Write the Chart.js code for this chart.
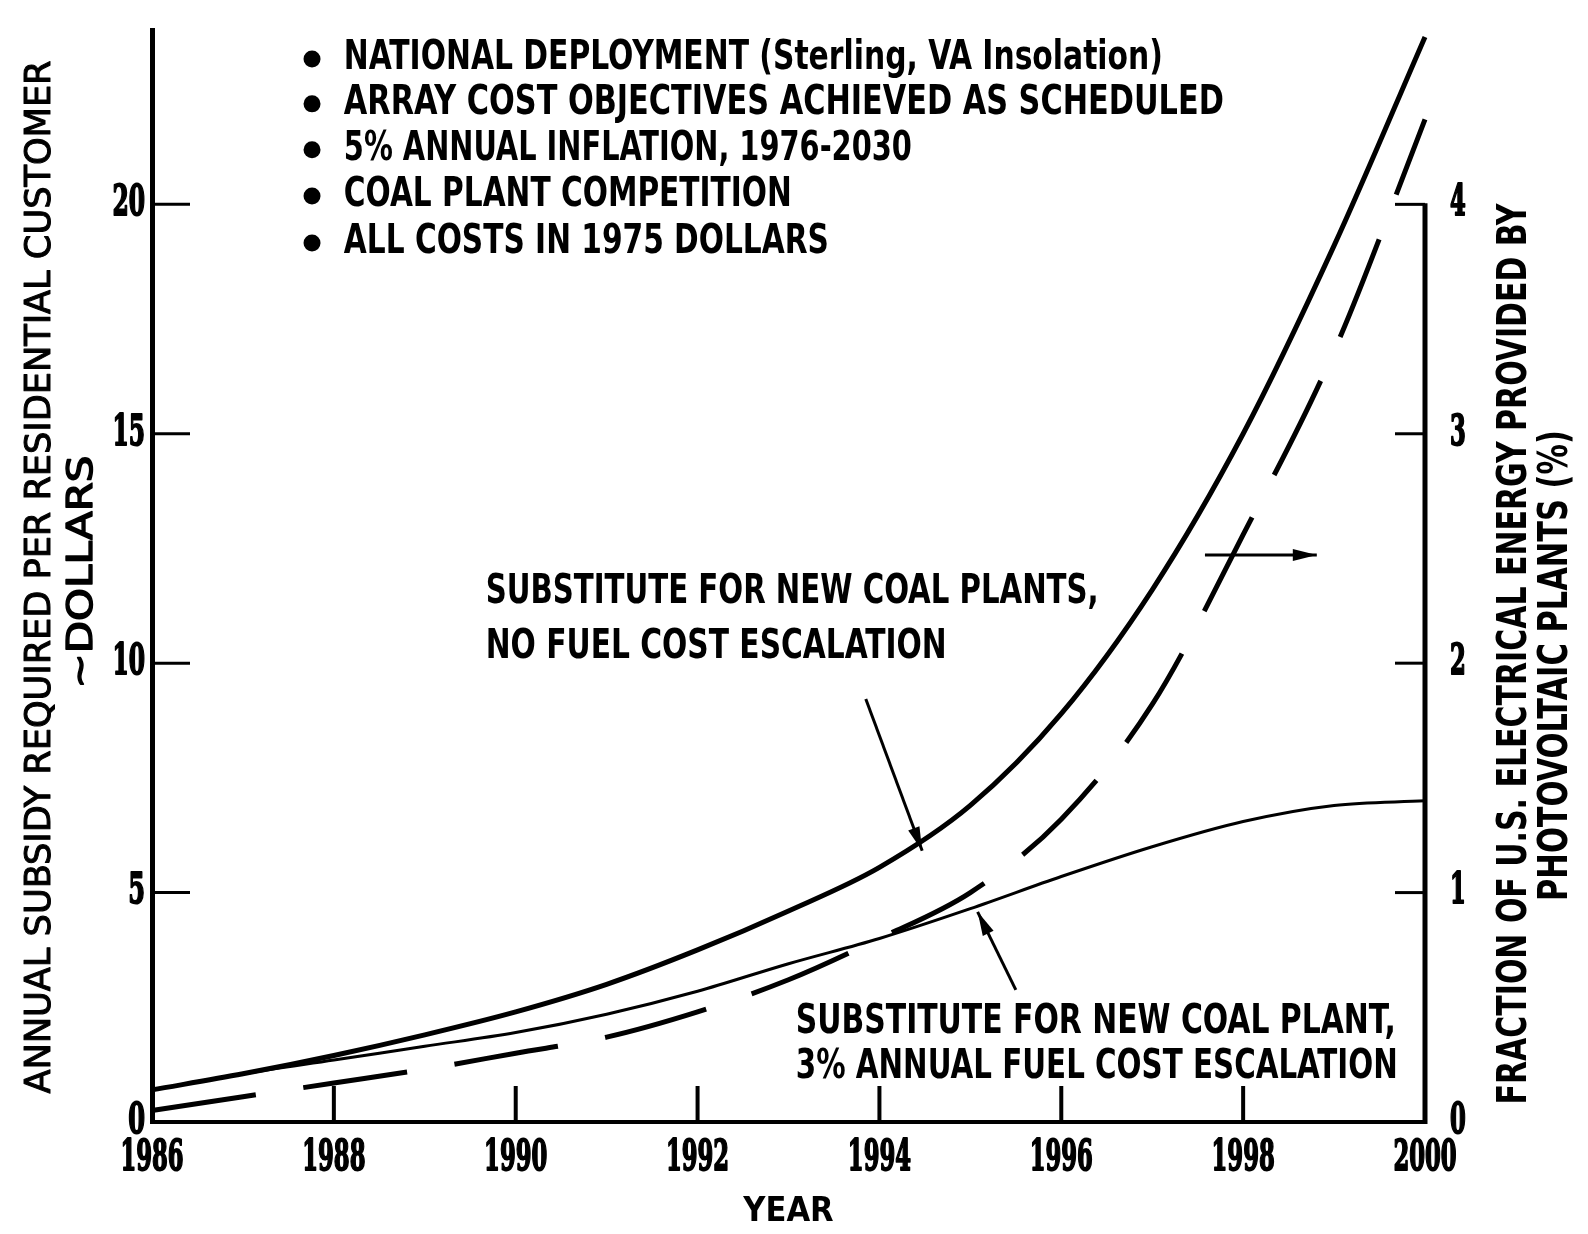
<!DOCTYPE html>
<html>
<head>
<meta charset="utf-8">
<script src="https://cdn.jsdelivr.net/npm/chart.js@4.4.1/dist/chart.umd.min.js"></script>
<style>
  html, body { margin: 0; padding: 0; background: #fff; }
</style>
</head>
<body>
<canvas id="chart" width="1588" height="1234"></canvas>
<script>
// Values
const years = [1986, 1987, 1988, 1989, 1990, 1991, 1992, 1993, 1994, 1995, 1996, 1997, 1998, 1999, 2000];
// annual subsidy, dollars (left axis)
const noEscalation = [0.7, 1.05, 1.45, 1.9, 2.4, 3.0, 3.75, 4.6, 5.55, 6.9, 8.9, 11.6, 15.0, 19.1, 23.65];
const fuelEscalation = [0.7, 1.05, 1.35, 1.65, 1.95, 2.35, 2.85, 3.45, 4.0, 4.65, 5.35, 6.0, 6.55, 6.9, 7.0];
// fraction of US electrical energy from PV, percent (right axis)
const pvFraction = [0.05, 0.11, 0.17, 0.23, 0.30, 0.37, 0.48, 0.62, 0.80, 1.00, 1.32, 1.82, 2.56, 3.36, 4.37];

const yearTicks = [1986, 1988, 1990, 1992, 1994, 1996, 1998, 2000];
const dollarTicks = [0, 5, 10, 15, 20];
const fractionTicks = [0, 1, 2, 3, 4];

const notes = [
  'NATIONAL DEPLOYMENT (Sterling, VA Insolation)',
  'ARRAY COST OBJECTIVES ACHIEVED AS SCHEDULED',
  '5% ANNUAL INFLATION, 1976-2030',
  'COAL PLANT COMPETITION',
  'ALL COSTS IN 1975 DOLLARS'
];

const Y_MAX = 23.8;
const COND = '"Liberation Sans Narrow", "DejaVu Sans Condensed", "Roboto Condensed", "Liberation Sans", sans-serif';
const SLAB = '"DejaVu Serif", "Liberation Serif", serif';

// draw text squeezed/stretched to a given width, optionally thickened
function fitText(ctx, text, x, y, width, font, weight) {
  ctx.font = font;
  const w = ctx.measureText(text).width;
  ctx.save();
  ctx.translate(x, y);
  ctx.scale(width / w, 1);
  ctx.fillText(text, 0, 0);
  if (weight) {
    ctx.lineWidth = weight;
    ctx.lineJoin = 'round';
    ctx.strokeText(text, 0, 0);
  }
  ctx.restore();
}

function arrow(ctx, x1, y1, x2, y2) {
  const a = Math.atan2(y2 - y1, x2 - x1);
  ctx.beginPath();
  ctx.moveTo(x1, y1);
  ctx.lineTo(x2, y2);
  ctx.stroke();
  ctx.beginPath();
  ctx.moveTo(x2, y2);
  ctx.lineTo(x2 - 24 * Math.cos(a) + 6 * Math.sin(a), y2 - 24 * Math.sin(a) - 6 * Math.cos(a));
  ctx.lineTo(x2 - 24 * Math.cos(a) - 6 * Math.sin(a), y2 - 24 * Math.sin(a) + 6 * Math.cos(a));
  ctx.closePath();
  ctx.fill();
}

function rotatedText(ctx, text, cx, cy, width, font, weight) {
  ctx.save();
  ctx.translate(cx, cy);
  ctx.rotate(-Math.PI / 2);
  fitText(ctx, text, 0, 0, width, font, weight);
  ctx.restore();
}

const decorations = {
  id: 'decorations',
  afterDraw(chart) {
    const ctx = chart.ctx;
    const {x, y, y2} = chart.scales;
    const area = chart.chartArea;
    ctx.save();
    ctx.strokeStyle = '#000';
    ctx.fillStyle = '#000';
    ctx.lineCap = 'butt';

    // inward tick marks
    ctx.lineWidth = 4;
    yearTicks.slice(1, -1).forEach(v => {
      const px = x.getPixelForValue(v);
      ctx.beginPath(); ctx.moveTo(px, area.bottom); ctx.lineTo(px, area.bottom - 36); ctx.stroke();
    });
    ctx.lineWidth = 3;
    dollarTicks.slice(1).forEach(v => {
      const py = y.getPixelForValue(v);
      ctx.beginPath(); ctx.moveTo(area.left, py); ctx.lineTo(area.left + 38, py); ctx.stroke();
    });
    fractionTicks.slice(1).forEach(v => {
      const py = y2.getPixelForValue(v);
      ctx.beginPath(); ctx.moveTo(area.right - 30, py); ctx.lineTo(area.right, py); ctx.stroke();
    });
    // right axis only runs up to 4 %
    ctx.lineWidth = 5;
    ctx.beginPath();
    ctx.moveTo(area.right, y2.getPixelForValue(0) + 2);
    ctx.lineTo(area.right, y2.getPixelForValue(4) - 1);
    ctx.stroke();

    // tick labels, condensed slab figures
    const numFont = 'bold 42px ' + SLAB;
    const digitW = 15.8;
    ctx.textBaseline = 'middle';
    ctx.textAlign = 'center';
    yearTicks.forEach(v => {
      fitText(ctx, String(v), x.getPixelForValue(v), area.bottom + 37, digitW * 4, numFont, 2);
    });
    ctx.textAlign = 'right';
    dollarTicks.forEach(v => {
      const s = String(v);
      fitText(ctx, s, area.left - 7, y.getPixelForValue(v), digitW * s.length + 1, numFont, 2);
    });
    ctx.textAlign = 'left';
    fractionTicks.forEach(v => {
      fitText(ctx, String(v), area.right + 25, y2.getPixelForValue(v), digitW, numFont, 2);
    });

    // axis titles
    ctx.textAlign = 'center';
    const midY = (area.top + area.bottom) / 2;
    rotatedText(ctx, 'ANNUAL SUBSIDY REQUIRED PER RESIDENTIAL CUSTOMER', 41, midY + 1, 1033, '36px ' + COND, 1);
    rotatedText(ctx, '~DOLLARS', 83, midY - 4, 233, '36px ' + COND, 1.4);
    rotatedText(ctx, 'FRACTION OF U.S. ELECTRICAL ENERGY PROVIDED BY', area.right + 91, y2.getPixelForValue(2.04), 901, 'bold 40px ' + COND);
    rotatedText(ctx, 'PHOTOVOLTAIC PLANTS (%)', area.right + 132, y2.getPixelForValue(1.99), 471, 'bold 40px ' + COND);

    // assumption list
    ctx.textAlign = 'left';
    const noteWidths = [819, 880, 568, 448, 485];
    const noteRows = [23.17, 22.19, 21.19, 20.18, 19.16];
    notes.forEach((t, i) => {
      const py = y.getPixelForValue(noteRows[i]);
      ctx.beginPath();
      ctx.arc(x.getPixelForValue(1987.76), py, 8.5, 0, Math.PI * 2);
      ctx.fill();
      fitText(ctx, t, x.getPixelForValue(1988.11), py, noteWidths[i], 'bold 40px ' + COND);
    });

    // curve labels
    const f = 'bold 40px ' + COND;
    fitText(ctx, 'SUBSTITUTE FOR NEW COAL PLANTS,', x.getPixelForValue(1989.67), y.getPixelForValue(11.53), 613, f);
    fitText(ctx, 'NO FUEL COST ESCALATION', x.getPixelForValue(1989.67), y.getPixelForValue(10.33), 461, f);
    fitText(ctx, 'SUBSTITUTE FOR NEW COAL PLANT,', x.getPixelForValue(1993.08), y.getPixelForValue(2.16), 600, f);
    fitText(ctx, '3% ANNUAL FUEL COST ESCALATION', x.getPixelForValue(1993.08), y.getPixelForValue(1.18), 602, f);

    ctx.lineWidth = 3;
    arrow(ctx, x.getPixelForValue(1993.85), y.getPixelForValue(9.22), x.getPixelForValue(1994.47), y.getPixelForValue(5.91));
    arrow(ctx, x.getPixelForValue(1995.5), y.getPixelForValue(2.88), x.getPixelForValue(1995.08), y.getPixelForValue(4.58));
    arrow(ctx, x.getPixelForValue(1997.58), y.getPixelForValue(12.36), x.getPixelForValue(1998.81), y.getPixelForValue(12.36));

    ctx.restore();
  }
};

const ctx = document.getElementById('chart').getContext('2d');
new Chart(ctx, {
  type: 'line',
  data: {
    datasets: [
      {
        label: 'Substitute for new coal plants, no fuel cost escalation',
        data: years.map((yr, i) => ({x: yr, y: noEscalation[i]})),
        yAxisID: 'y',
        borderColor: '#000',
        borderWidth: 5,
        pointRadius: 0,
        cubicInterpolationMode: 'monotone'
      },
      {
        label: 'Substitute for new coal plant, 3% annual fuel cost escalation',
        data: years.map((yr, i) => ({x: yr, y: fuelEscalation[i]})),
        yAxisID: 'y',
        borderColor: '#000',
        borderWidth: 3,
        pointRadius: 0,
        cubicInterpolationMode: 'monotone'
      },
      {
        label: 'Fraction of U.S. electrical energy provided by PV plants (%)',
        data: years.map((yr, i) => ({x: yr, y: pvFraction[i]})),
        yAxisID: 'y2',
        borderColor: '#000',
        borderWidth: 5,
        borderDash: [105, 48],
        pointRadius: 0,
        cubicInterpolationMode: 'monotone'
      }
    ]
  },
  options: {
    responsive: false,
    animation: false,
    devicePixelRatio: 1,
    clip: false,
    layout: { padding: { top: 30, left: 0, right: 0, bottom: 0 } },
    plugins: { legend: { display: false }, tooltip: { enabled: false } },
    scales: {
      x: {
        type: 'linear',
        min: 1986,
        max: 2000,
        afterBuildTicks: s => { s.ticks = yearTicks.map(v => ({value: v})); },
        afterFit: s => { s.height = 112; },
        grid: { display: true, drawOnChartArea: false, drawTicks: false },
        border: { color: '#000', width: 4 },
        ticks: { display: false },
        title: { display: true, text: 'YEAR', color: '#000', padding: { top: 0, bottom: 1 },
                 font: { family: COND, size: 34, weight: 'bold' } }
      },
      y: {
        position: 'left',
        min: 0,
        max: Y_MAX,
        afterBuildTicks: s => { s.ticks = dollarTicks.map(v => ({value: v})); },
        afterFit: s => { s.width = 152; },
        grid: { display: true, drawOnChartArea: false, drawTicks: false },
        border: { color: '#000', width: 5 },
        ticks: { display: false }
      },
      y2: {
        position: 'right',
        min: 0,
        max: Y_MAX / 5,
        afterBuildTicks: s => { s.ticks = fractionTicks.map(v => ({value: v})); },
        afterFit: s => { s.width = 163; },
        grid: { display: false },
        border: { display: false },
        ticks: { display: false }
      }
    }
  },
  plugins: [decorations]
});
</script>
</body>
</html>
